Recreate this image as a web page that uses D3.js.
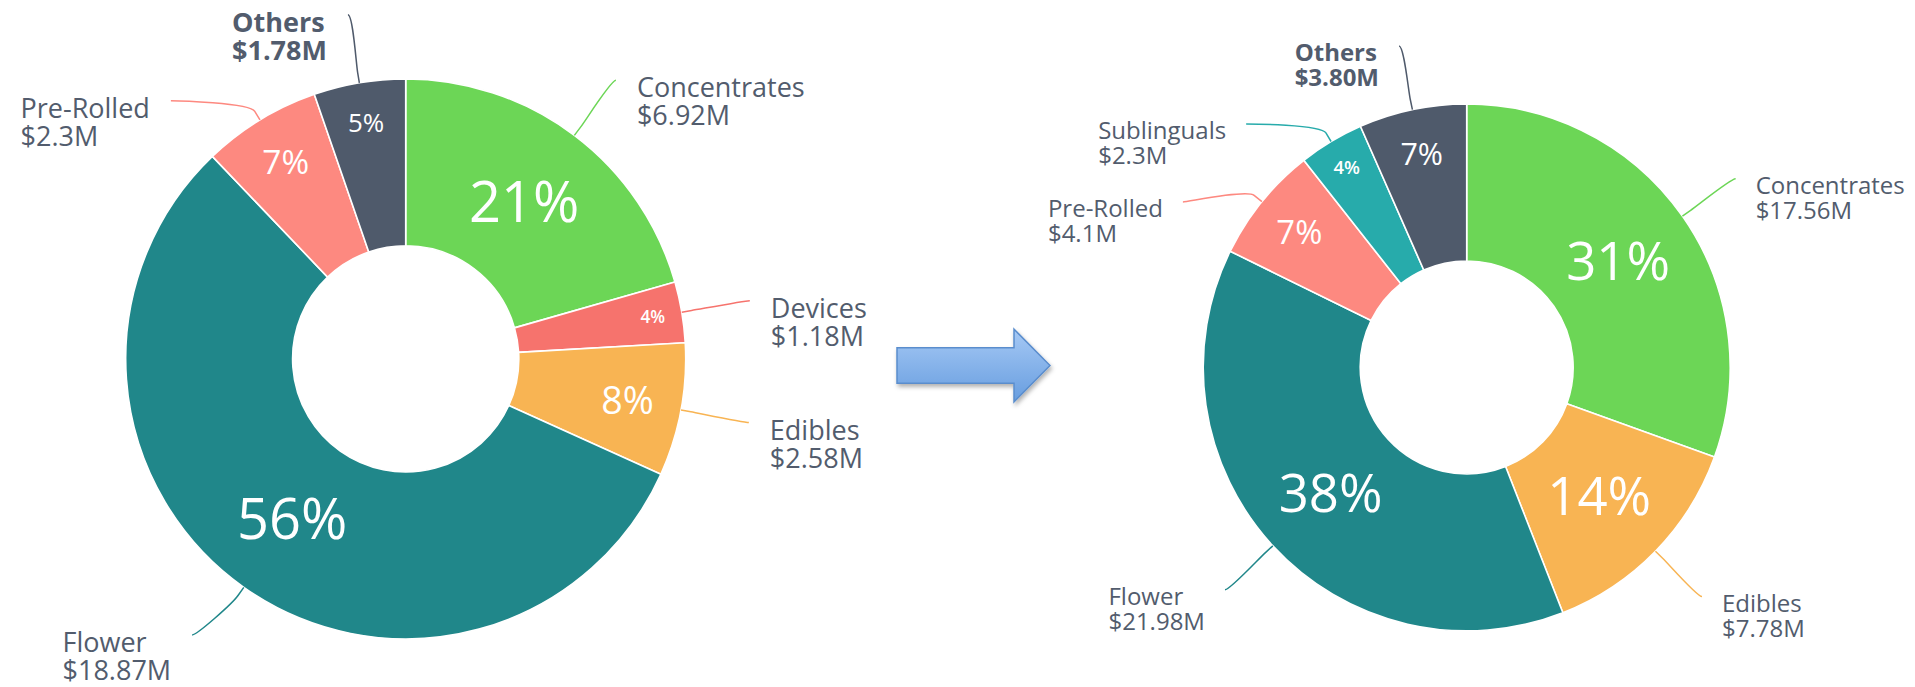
<!DOCTYPE html>
<html>
<head>
<meta charset="utf-8">
<script src="https://cdn.jsdelivr.net/npm/d3@7"></script>
<style>
  body { margin: 0; background: #fff; }
  svg { display: block; font-family: "Open Sans", sans-serif; }
</style>
</head>
<body>
<div class="charts"></div>
<script>
// before / after sales split, $M
var leftNames = ["Concentrates", "Devices", "Edibles", "Flower", "Pre-Rolled", "Others"];
var leftValues = [6.92, 1.18, 2.58, 18.87, 2.3, 1.78];
var leftValueLabels = ["$6.92M", "$1.18M", "$2.58M", "$18.87M", "$2.3M", "$1.78M"];

var rightNames = ["Concentrates", "Edibles", "Flower", "Pre-Rolled", "Sublinguals", "Others"];
var rightValues = [17.56, 7.78, 21.98, 4.1, 2.3, 3.80];
var rightValueLabels = ["$17.56M", "$7.78M", "$21.98M", "$4.1M", "$2.3M", "$3.80M"];

var colorNames = ["Concentrates", "Devices", "Edibles", "Flower", "Pre-Rolled", "Sublinguals", "Others"];
var colorValues = ["#6cd656", "#f6736d", "#f8b453", "#20878a", "#fd8980", "#27abab", "#4f5a6b"];

var width = 1915, height = 687;
var textColor = "#525c6d";

var color = d3.scaleOrdinal().domain(colorNames).range(colorValues);

var svg = d3.select(".charts").append("svg")
  .attr("width", width)
  .attr("height", height);

var defs = svg.append("defs");

function drawDonut(names, values, valueLabels, cfg) {
  var g = svg.append("g");
  var data = names.map(function(n, i) { return {name: n, value: values[i], label: valueLabels[i]}; });
  var total = d3.sum(values);

  var pie = d3.pie().sort(null).value(function(d) { return d.value; });
  var arcs = pie(data);
  var inner = cfg.r * 0.404;
  var arc = d3.arc().innerRadius(inner).outerRadius(cfg.r);

  var chart = g.append("g").attr("transform", "translate(" + cfg.cx + "," + cfg.cy + ")");

  chart.selectAll(".slice")
    .data(arcs)
    .enter().append("path")
    .attr("class", "slice")
    .attr("d", arc)
    .attr("fill", function(d) { return color(d.data.name); })
    .attr("stroke", "#fff")
    .attr("stroke-width", 1.6)
    .attr("stroke-linejoin", "round");

  // percentages inside the ring, smaller slices get smaller text pushed outwards
  arcs.forEach(function(d) {
    var a = (d.startAngle + d.endAngle) / 2;
    var deg = (d.endAngle - d.startAngle) * 180 / Math.PI;
    var fs = Math.min(cfg.r * 0.2, 1.36 * deg * cfg.r / 280);
    var frac = Math.max(0.5, 0.95 - 0.01 * deg);
    var rr = inner + frac * (cfg.r - inner);
    chart.append("text")
      .attr("x", rr * Math.sin(a))
      .attr("y", -rr * Math.cos(a))
      .attr("dy", "0.36em")
      .attr("text-anchor", "middle")
      .attr("fill", "#fff")
      .style("font-size", fs + "px")
      .style("font-weight", fs < 20 ? 600 : 400)
      .text(Math.round(d.value / total * 100) + "%");
  });

  // outside labels, highcharts style: radial anchor, pushed apart on each side,
  // kept inside the picture at the bottom
  var R2 = cfg.r + cfg.labelDist;
  var lineH = cfg.fs * 1.04, capOff = cfg.fs * 0.63;
  var maxY = height - 7 - capOff - lineH;
  var labels = arcs.map(function(d) {
    var a = (d.startAngle + d.endAngle) / 2;
    return {d: d, a: a, left: a > Math.PI, y: cfg.cy - R2 * Math.cos(a)};
  });
  [true, false].forEach(function(side) {
    var list = labels.filter(function(l) { return l.left === side; })
      .sort(function(p, q) { return p.y - q.y; });
    for (var i = 1; i < list.length; i++) {
      if (list[i].y < list[i - 1].y + cfg.spacing) list[i].y = list[i - 1].y + cfg.spacing;
    }
    list.forEach(function(l) { l.y = Math.min(l.y, maxY); });
  });

  labels.forEach(function(l) {
    var dy = l.y - cfg.cy;
    var dx = Math.sqrt(Math.max(0, R2 * R2 - dy * dy));
    l.x = cfg.cx + (l.left ? -dx : dx);

    var tx = cfg.cx + cfg.r * Math.sin(l.a), ty = cfg.cy - cfg.r * Math.cos(l.a);
    var bx = cfg.cx + (cfg.r + 10) * Math.sin(l.a), by = cfg.cy - (cfg.r + 10) * Math.cos(l.a);
    var p = d3.path();
    p.moveTo(l.x, l.y);
    p.bezierCurveTo(l.x + (l.left ? 5 : -5), l.y, 2 * bx - tx, 2 * by - ty, bx, by);
    p.lineTo(tx, ty);
    g.append("path")
      .attr("d", p.toString())
      .attr("fill", "none")
      .attr("stroke", color(l.d.data.name))
      .attr("stroke-width", 1.5);

    var isOther = l.d.data.name === "Others";
    var base = l.y + capOff;
    var t1 = g.append("text").attr("y", base).text(l.d.data.name);
    var t2 = g.append("text").attr("y", base + lineH).text(l.d.data.label);
    [t1, t2].forEach(function(t) {
      t.attr("fill", textColor)
        .style("font-size", cfg.fs + "px")
        .style("font-weight", isOther ? 700 : 400);
    });
    var w = Math.max(t1.node().getComputedTextLength(), t2.node().getComputedTextLength());
    var x0 = l.left ? l.x - cfg.gap - w : l.x + cfg.gap;
    t1.attr("x", x0);
    t2.attr("x", x0);
  });
}

drawDonut(leftNames, leftValues, leftValueLabels,
  {cx: 405.7, cy: 358.9, r: 280, labelDist: 69, spacing: 86, fs: 27, gap: 21});
drawDonut(rightNames, rightValues, rightValueLabels,
  {cx: 1466.7, cy: 367.4, r: 263.5, labelDist: 65, spacing: 78, fs: 24, gap: 20});

// the arrow between the two charts
var arrow = {x0: 897, x1: 1014, tip: 1050, cy: 365.5, bodyH: 35.6, headH: 72.7};

var grad = defs.append("linearGradient")
  .attr("id", "arrowFill")
  .attr("x1", 0).attr("y1", 0).attr("x2", 0).attr("y2", 1);
grad.append("stop").attr("offset", "0%").attr("stop-color", "#a6c9f5");
grad.append("stop").attr("offset", "100%").attr("stop-color", "#679ddf");

var shadow = defs.append("filter").attr("id", "arrowShadow")
  .attr("x", "-20%").attr("y", "-30%").attr("width", "150%").attr("height", "170%");
shadow.append("feDropShadow")
  .attr("dx", 1.5).attr("dy", 3).attr("stdDeviation", 2)
  .attr("flood-color", "#000").attr("flood-opacity", 0.3);

var ap = d3.path();
ap.moveTo(arrow.x0, arrow.cy - arrow.bodyH / 2);
ap.lineTo(arrow.x1, arrow.cy - arrow.bodyH / 2);
ap.lineTo(arrow.x1, arrow.cy - arrow.headH / 2);
ap.lineTo(arrow.tip, arrow.cy);
ap.lineTo(arrow.x1, arrow.cy + arrow.headH / 2);
ap.lineTo(arrow.x1, arrow.cy + arrow.bodyH / 2);
ap.lineTo(arrow.x0, arrow.cy + arrow.bodyH / 2);
ap.closePath();

svg.append("path")
  .attr("d", ap.toString())
  .attr("fill", "url(#arrowFill)")
  .attr("stroke", "#5a8dcd")
  .attr("stroke-width", 1.5)
  .attr("filter", "url(#arrowShadow)");
</script>
</body>
</html>
